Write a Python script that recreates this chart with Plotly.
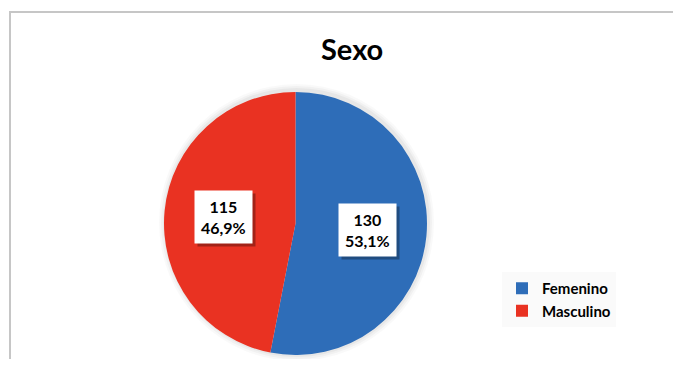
import math
import plotly.graph_objects as go

categories = ["Femenino", "Masculino"]
values = [130, 115]
colors = ["#2E6DB8", "#E93222"]
title_text = "Sexo"

OFF = 8  # page body margin
W, H = 681 - OFF, 367 - 2 * OFF
# pie placement (reference pixels, converted to figure pixels)
px0, px1, py0, py1 = 164 - OFF, 427 - OFF, 92 - OFF, 355 - OFF
cxp, cyp = (px0 + px1) / 2, (py0 + py1) / 2
r = (px1 - px0) / 2

total = sum(values)
labels_txt = []
for v in values:
    pct = f"{100 * v / total:.1f}".replace(".", ",")
    labels_txt.append(f"<b>{v}<br>{pct}%</b>")

fig = go.Figure()
fig.add_trace(go.Pie(
    labels=categories, values=values, sort=False, direction="clockwise", rotation=0,
    marker=dict(colors=colors, line=dict(width=0)),
    textinfo="none", hoverinfo="label+value+percent",
    domain=dict(x=[px0 / W, px1 / W], y=[1 - py1 / H, 1 - py0 / H]),
))

shapes = []
for k, a in [(6, 0.025), (4, 0.03), (2, 0.04)]:
    shapes.append(dict(type="circle", xref="paper", yref="paper", layer="below",
                       x0=(cxp - r - k + 1) / W, x1=(cxp + r + k + 1) / W,
                       y0=1 - (cyp + r + k) / H, y1=1 - (cyp - r - k - 2) / H,
                       fillcolor=f"rgba(0,0,0,{a})", line=dict(width=0)))
shapes.append(dict(type="rect", xref="paper", yref="paper", x0=(10 - OFF) / W, x1=1.05,
                   y0=-0.2, y1=1 - (12 - OFF) / H, line=dict(color="#C6C6C6", width=2)))

annotations = [dict(text=f"<b>{title_text}</b>", x=(352 - OFF) / W, y=1 - (48 - OFF) / H,
                    xref="paper", yref="paper", xanchor="center", yanchor="middle",
                    showarrow=False, font=dict(family="Lato", size=29, color="#000000"))]
cum = 0
for v, t in zip(values, labels_txt):
    mid = (cum + v / 2) / total * 2 * math.pi
    cum += v
    lx = cxp + 0.55 * r * math.sin(mid)
    ly = cyp - 0.55 * r * math.cos(mid)
    common = dict(x=lx / W, y=1 - ly / H, xref="paper", yref="paper", showarrow=False,
                  xanchor="center", yanchor="middle", borderpad=6, align="center")
    annotations.append(dict(text=t, bgcolor="rgba(0,0,0,0.3)", xshift=3, yshift=-3,
                            font=dict(family="Lato", size=16, color="rgba(0,0,0,0)"), **common))
    annotations.append(dict(text=t, bgcolor="#FFFFFF",
                            font=dict(family="Lato", size=16, color="#000000"), **common))

fig.update_layout(
    width=W, height=H, margin=dict(l=0, r=0, t=0, b=0),
    paper_bgcolor="#FFFFFF", plot_bgcolor="#FFFFFF",
    showlegend=True,
    legend=dict(x=(502 - OFF) / W, y=1 - (272 - OFF) / H, xanchor="left", yanchor="top",
                bgcolor="#FAFAFA", font=dict(family="Lato", size=15, color="#000000", weight="bold"),
                itemwidth=30, tracegroupgap=0),
    shapes=shapes, annotations=annotations,
)
fig.write_html("out.html")
